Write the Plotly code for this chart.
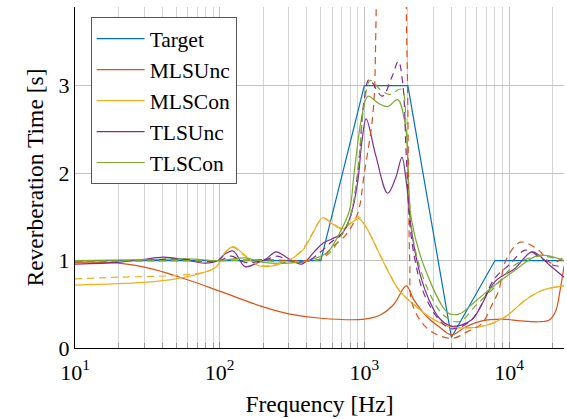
import plotly.graph_objects as go

# ---------------- data ----------------
target_f = [10, 500, 1000, 2000, 4000, 8000, 24000]
target_v = [1, 1, 3, 3, 0.12, 1, 1]

mlsunc_f = [10, 20, 35, 60, 100, 200, 300, 500, 1000, 1300, 1600, 1950, 2200, 2700,
            3300, 4000, 5000, 6500, 9000, 12000, 16000, 19000, 21000, 22500, 24000]
mlsunc_v = [0.98, 0.97, 0.90, 0.78, 0.65, 0.47, 0.39, 0.34, 0.33, 0.38, 0.50, 0.71, 0.55, 0.36,
            0.24, 0.15, 0.24, 0.31, 0.33, 0.31, 0.30, 0.32, 0.42, 0.65, 0.93]

mlsunc_d_f = [10, 50, 100, 200, 400, 500, 600, 750, 900, 1000, 1150, 1200, 1250, 1500, 1900,
              1950, 1990, 2020, 2060, 2150, 2740, 4000, 5200, 6500, 7500, 8500, 9500, 12000,
              16000, 19500, 24000]
mlsunc_d_v = [1.0, 1.0, 1.0, 1.01, 1.0, 1.02, 1.15, 1.3, 1.54, 2.0, 2.7, 3.6, 8, 20, 8,
              3.9, 3.0, 2.0, 1.0, 0.5, 0.22, 0.11, 0.19, 0.28, 0.47, 0.66, 1.0, 1.21,
              1.12, 0.97, 1.04]

mlscon_f = [10, 30, 50, 80, 95, 110, 124, 145, 180, 210, 250, 300, 375, 440, 515, 600, 700,
            800, 914, 1030, 1270, 1490, 1740, 2150, 2800, 3800, 5000, 7000, 9500, 13000,
            17000, 24000]
mlscon_v = [0.72, 0.75, 0.79, 0.87, 0.93, 1.10, 1.16, 1.08, 0.95, 0.93, 0.95, 1.0, 1.12, 1.31,
            1.49, 1.42, 1.36, 1.42, 1.48, 1.38, 1.08, 0.85, 0.66, 0.51, 0.36, 0.25, 0.23, 0.26,
            0.36, 0.55, 0.66, 0.71]

mlscon_d_f = [10, 20, 50, 80, 95, 110, 124, 145, 180, 210, 250, 300, 375, 440, 515, 600, 700,
              800, 914, 1030, 1270, 1490, 1740, 2150, 2800, 3800, 5000, 7000, 9500, 13000,
              17000, 24000]
mlscon_d_v = [0.79, 0.81, 0.83, 0.87, 0.93, 1.10, 1.15, 1.07, 0.96, 0.94, 0.96, 1.0, 1.13, 1.32,
              1.48, 1.43, 1.37, 1.43, 1.50, 1.38, 1.08, 0.85, 0.66, 0.51, 0.36, 0.25, 0.23, 0.26,
              0.36, 0.55, 0.66, 0.71]

tlsunc_f = [10, 20, 29, 41, 57, 79, 97, 110, 124, 150, 180, 210, 246, 300, 370, 450, 520,
            600, 700, 800, 900, 960, 1030, 1200, 1450, 1650, 1820, 1950, 2150, 2460, 2800,
            3300, 4000, 5500, 8000, 11000, 14500, 19000, 24000]
tlsunc_v = [0.96, 0.98, 1.01, 1.04, 1.01, 0.97, 1.0, 1.08, 1.11, 0.93, 0.97, 1.02, 1.10, 1.02,
            0.96, 1.1, 1.2, 1.25, 1.31, 1.5, 1.9, 2.35, 2.62, 2.2, 1.77, 1.95, 2.18, 1.9,
            1.27, 0.81, 0.55, 0.34, 0.25, 0.32, 0.76, 0.91, 1.10, 0.95, 0.81]

tlsunc_d_f = [10, 30, 50, 80, 100, 120, 150, 200, 250, 300, 400, 500, 600, 700, 800, 900, 1000,
              1080, 1330, 1550, 1720, 1850, 1950, 2100, 2460, 2800, 3300, 4000, 5500, 8000,
              10000, 13000, 16000, 20000, 24000]
tlsunc_d_v = [1.0, 1.0, 1.02, 0.99, 1.0, 1.05, 0.98, 1.0, 1.05, 1.0, 0.99, 1.1, 1.22, 1.3, 1.5,
              2.0, 2.85, 3.07, 2.88, 3.1, 3.28, 3.0, 2.2, 1.3, 0.72, 0.5, 0.32, 0.22, 0.32, 0.8,
              0.95, 1.12, 1.05, 0.95, 0.93]

tlscon_f = [10, 30, 60, 100, 150, 200, 300, 400, 500, 574, 672, 788, 850, 950, 1060, 1250,
            1450, 1700, 1930, 2100, 2650, 3800, 4550, 6000, 8000, 11000, 16000, 24000]
tlscon_v = [1.0, 1.01, 1.02, 1.0, 1.03, 0.98, 0.97, 1.0, 1.05, 1.12, 1.31, 1.57, 2.0, 2.6,
            2.88, 2.8, 2.76, 2.84, 2.52, 1.5, 0.89, 0.40, 0.39, 0.55, 0.72, 0.89, 1.06, 1.0]

tlscon_d_f = [10, 50, 100, 200, 300, 500, 600, 700, 800, 900, 1000, 1100, 1300, 1500, 1800,
              1950, 2050, 2200, 2700, 3500, 4500, 6000, 8000, 11000, 16000, 24000]
tlscon_d_v = [1.0, 1.0, 1.0, 1.0, 0.98, 1.02, 1.12, 1.3, 1.5, 2.0, 2.8, 3.06, 2.95, 2.9, 2.96,
              2.5, 1.7, 1.2, 0.7, 0.38, 0.3, 0.5, 0.7, 0.95, 1.05, 1.0]

x_tickvals = [10, 100, 1000, 10000]
x_ticktext = ["10<sup>1</sup>", "10<sup>2</sup>", "10<sup>3</sup>", "10<sup>4</sup>"]
y_tickvals = [0, 1, 2, 3]

C_BLUE = "#0072BD"
C_ORANGE = "#D95319"
C_YELLOW = "#EDB120"
C_PURPLE = "#7E2F8E"
C_GREEN = "#77AC30"

FONT = "Liberation Serif"
DASH = "7px,5px"
LW = 1.2

fig = go.Figure()


def add(f, v, name, color, dash=None, legend=True, shape="spline"):
    fig.add_trace(go.Scatter(
        x=f, y=v, mode="lines", name=name, showlegend=legend,
        line=dict(color=color, width=LW, dash=dash or "solid", shape=shape,
                  smoothing=1.0 if shape == "spline" else None),
    ))


# solid (legend)
add(target_f, target_v, "Target", C_BLUE, shape="linear")
add(mlsunc_f, mlsunc_v, "MLSUnc", C_ORANGE)
add(mlscon_f, mlscon_v, "MLSCon", C_YELLOW)
add(tlsunc_f, tlsunc_v, "TLSUnc", C_PURPLE)
add(tlscon_f, tlscon_v, "TLSCon", C_GREEN)
# dashed (not in legend)
add(mlsunc_d_f, mlsunc_d_v, "MLSUnc (d)", C_ORANGE, DASH, False)
add(mlscon_d_f, mlscon_d_v, "MLSCon (d)", C_YELLOW, DASH, False)
add(tlsunc_d_f, tlsunc_d_v, "TLSUnc (d)", C_PURPLE, DASH, False)
add(tlscon_d_f, tlscon_d_v, "TLSCon (d)", C_GREEN, DASH, False)

fig.update_layout(
    width=567, height=419,
    margin=dict(l=75, r=3, t=7, b=71),
    paper_bgcolor="white", plot_bgcolor="white",
    font=dict(family=FONT, size=22, color="black"),
    showlegend=True,
    legend=dict(
        x=0.032, y=0.97, xanchor="left", yanchor="top",
        bgcolor="white", bordercolor="#555555", borderwidth=1,
        font=dict(family=FONT, size=21.5, color="black"),
        tracegroupgap=0, itemwidth=48,
    ),
    xaxis=dict(
        type="log", range=[1, 4.3802],
        tickvals=x_tickvals, ticktext=x_ticktext,
        showgrid=True, gridcolor="#c4c4c4", gridwidth=1.2,
        ticks="inside", ticklen=6, tickcolor="#888888", tickwidth=1,
        minor=dict(dtick="D1", showgrid=True, gridcolor="#d4d4d4", gridwidth=1,
                   ticks="inside", ticklen=5, tickcolor="#999999"),
        showline=True, linecolor="black", linewidth=1.3, mirror=False,
        zeroline=False,
        ticklabelstandoff=4,
        title=dict(text="Frequency [Hz]", font=dict(family=FONT, size=23.5), standoff=12),
        tickfont=dict(family=FONT, size=22),
    ),
    yaxis=dict(
        range=[0, 3.9],
        tickvals=y_tickvals,
        showgrid=True, gridcolor="#c4c4c4", gridwidth=1.2,
        ticks="", showline=True, linecolor="black", linewidth=1.3, mirror=False,
        zeroline=False,
        title=dict(text="Reverberation Time [s]", font=dict(family=FONT, size=23.5), standoff=8),
        tickfont=dict(family=FONT, size=22),
    ),
)

fig.write_html("out.html", config={"displayModeBar": False},
               post_script="document.body.style.margin='0';")
